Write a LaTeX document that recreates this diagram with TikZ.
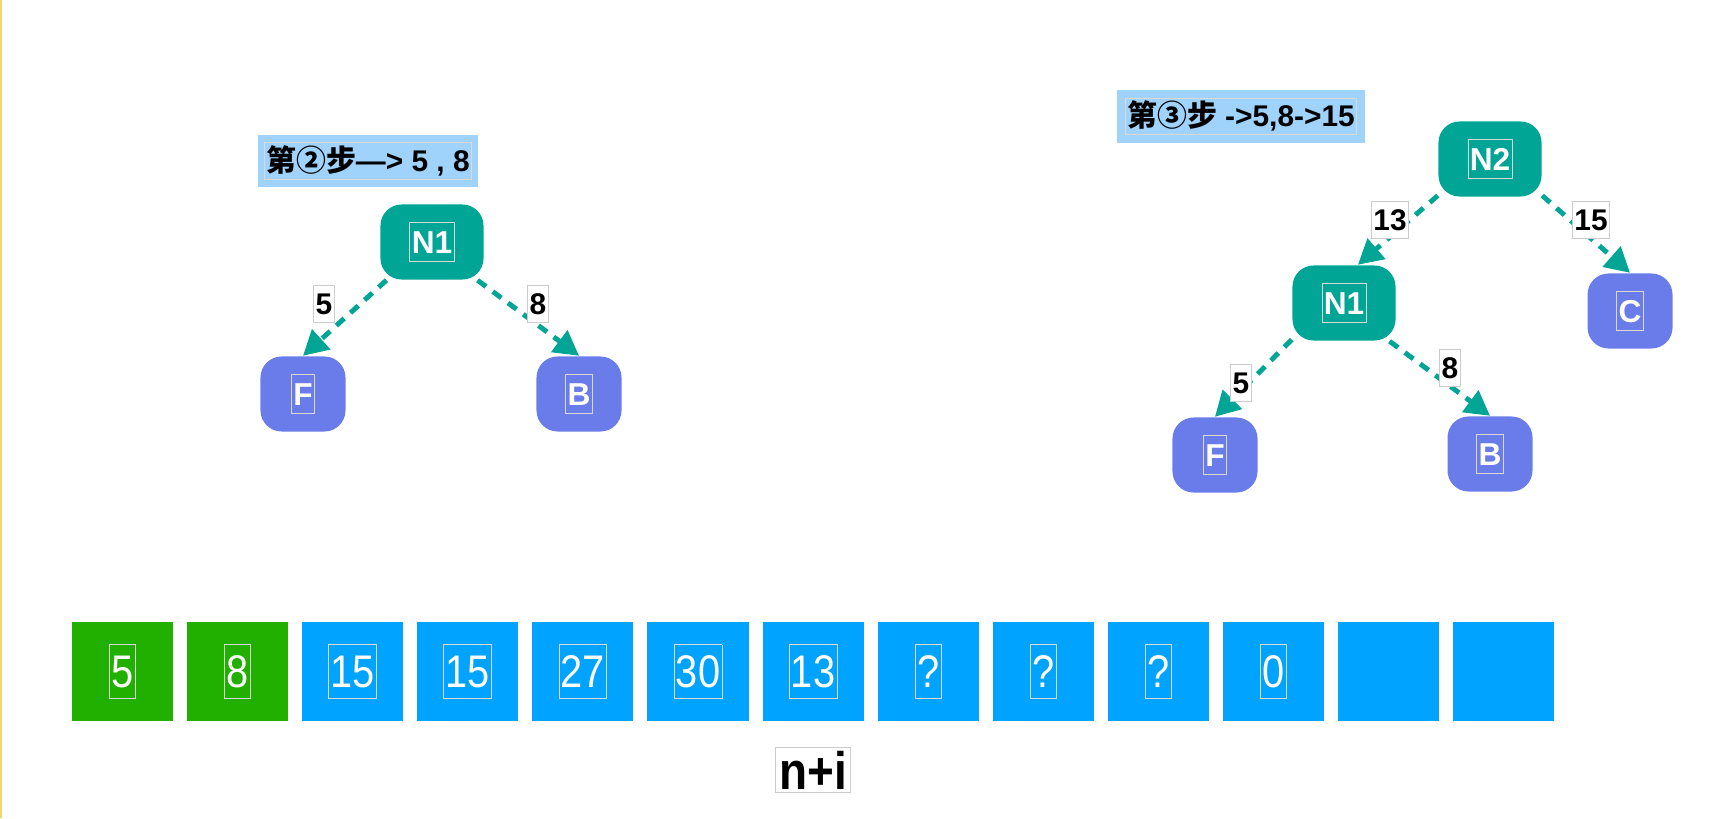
\documentclass[tikz,border=0pt]{standalone}
\usepackage{fontspec}
\setmainfont{Liberation Sans}
\newfontfamily\cjk{Noto Sans CJK SC}
\newfontfamily\narrowsf{Liberation Sans}[FakeStretch=0.87]
\usetikzlibrary{arrows.meta,positioning}
\definecolor{nteal}{HTML}{00A596}
\definecolor{nleaf}{HTML}{6A7CE9}
\definecolor{ntitle}{HTML}{9FD3FB}
\definecolor{nblue}{HTML}{00A3FF}
\definecolor{ngreen}{HTML}{22B000}
\definecolor{yline}{HTML}{F3D76A}
\newcommand{\tbox}[2][white]{{\fboxsep=0.4pt\fboxrule=0.25pt\color{gray!30}\fbox{\rule[-0.2em]{0pt}{1.1em}\color{#1}#2}}}
\tikzset{inner/.style={rounded corners=6pt,minimum width=1.03cm,minimum height=0.75cm,fill=nteal,text=white,font=\bfseries\fontsize{9}{10}\selectfont},
  leaf/.style={inner,fill=nleaf,minimum width=0.85cm,minimum height=0.75cm},
  elbl/.style={draw=gray!40,line width=0.3pt,fill=white,inner sep=0.5pt,font=\bfseries\fontsize{8.5}{9}\selectfont},
  titlebox/.style={fill=ntitle,minimum height=0.52cm,inner sep=0pt,font=\bfseries\fontsize{8.5}{10}\selectfont},
  cell/.style={fill=nblue,minimum width=1.01cm,minimum height=0.99cm,inner sep=0pt,text=white,font=\narrowsf\fontsize{13}{14}\selectfont},
  cellg/.style={cell,fill=ngreen},
  arr/.style={-{Triangle[length=7pt,width=7.5pt]},line width=1.4pt,dash pattern=on 3pt off 2.4pt,draw=nteal}}

\begin{document}
\begin{tikzpicture}[x=0.01cm,y=-0.01cm]
\useasboundingbox (0,0) rectangle (1716,818);
\draw[yline,line width=0.02cm] (1,0) -- (1,818);
% step 2
\node[titlebox,minimum width=2.2cm] (t2) at (368,161) {\tbox[black]{{\cjk\bfseries 第②步}—> 5 , 8}};
\node[inner] (a1) at (432,242) {\tbox{N1}};
\node[leaf] (aF) at (303,394) {\tbox{F}};
\node[leaf] (aB) at (579,394) {\tbox{B}};
\draw[arr] (a1.-140) -- (aF.north);
\draw[arr] (a1.-40) -- (aB.north);
\node[elbl] (la5) at (324,304) {\rule[-0.2em]{0pt}{1.1em}5};
\node[elbl] (la8) at (538,304) {\rule[-0.2em]{0pt}{1.1em}8};
% step 3
\node[titlebox,minimum width=2.48cm] (t3) at (1241,116.5) {\tbox[black]{{\cjk\bfseries 第③步} ->5,8->15}};
\node[inner] (b2) at (1490,159) {\tbox{N2}};
\node[inner] (b1) at (1344,303) {\tbox{N1}};
\node[leaf] (bC) at (1630,311) {\tbox{C}};
\node[leaf] (bF) at (1215,455) {\tbox{F}};
\node[leaf] (bB) at (1490,454) {\tbox{B}};
\draw[arr] (b2.-145) -- (b1.70);
\draw[arr] (b2.-35) -- (bC.north);
\draw[arr] (b1.-145) -- (bF.north);
\draw[arr] (b1.-40) -- (bB.north);
\node[elbl] (lb13) at (1390,220) {\rule[-0.2em]{0pt}{1.1em}13};
\node[elbl] (lb15) at (1591,220) {\rule[-0.2em]{0pt}{1.1em}15};
\node[elbl] (lb5) at (1241,383) {\rule[-0.2em]{0pt}{1.1em}5};
\node[elbl] (lb8) at (1450,368) {\rule[-0.2em]{0pt}{1.1em}8};
% array
\foreach \v/\s [count=\i] in {5/cellg,8/cellg,15/cell,15/cell,27/cell,30/cell,13/cell,?/cell,?/cell,?/cell,0/cell}
  \node[\s] (c\i) at ({122.5+(\i-1)*115.1},671.5) {\tbox{\v}};
\foreach \i in {12,13}
  \node[cell] (c\i) at ({122.5+(\i-1)*115.1},671.5) {};
\node[draw=gray!40,line width=0.3pt,inner sep=1pt,font=\narrowsf\bfseries\fontsize{15}{16}\selectfont] (idx) at (813,770) {n+i};
\end{tikzpicture}
\end{document}
